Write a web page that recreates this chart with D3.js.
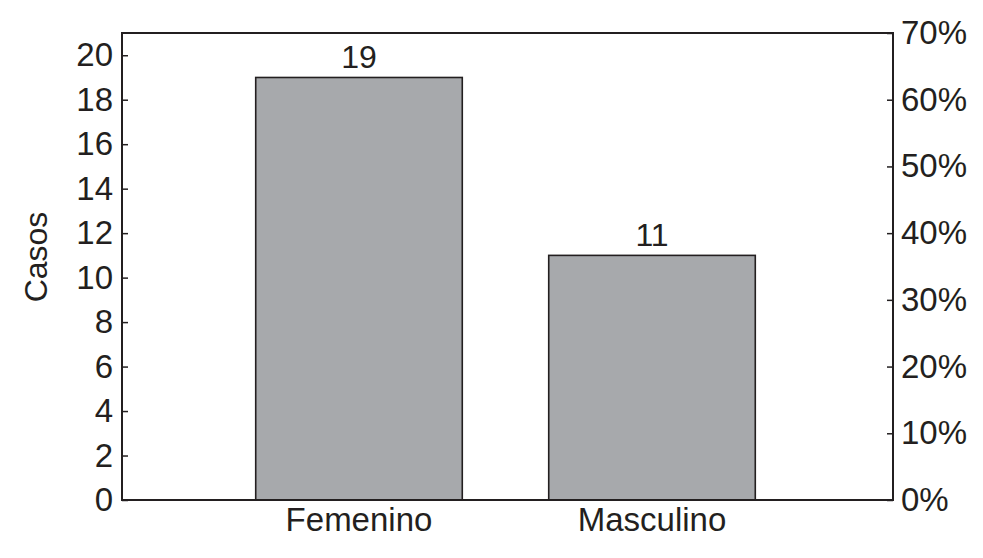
<!DOCTYPE html>
<html>

<head>
	<meta charset="utf-8">
	<script src="https://cdn.jsdelivr.net/npm/d3@7"></script>
	<style type="text/css">
		body {
			margin: 0;
			background: white;
		}

		text {
			font-family: 'Liberation Sans', Arial, sans-serif;
			fill: #231f20;
		}
	</style>
	<title>Casos por sexo</title>
</head>

<body>
	<script>
		// data
		var categories = ["Femenino", "Masculino"];
		var casos = [19, 11];
		var leftTicks = [0, 2, 4, 6, 8, 10, 12, 14, 16, 18, 20];
		var rightTicks = [0, 10, 20, 30, 40, 50, 60, 70];
		var total = 30;

		var margin = { top: 33, right: 90, bottom: 58, left: 122 },
			width = 983 - margin.left - margin.right,
			height = 558 - margin.top - margin.bottom;

		var svg = d3.select("body").append("svg")
			.attr("width", 983)
			.attr("height", 558)
			.append("g")
			.attr("transform", "translate(" + margin.left + "," + margin.top + ")");

		var x = d3.scaleBand()
			.domain(categories)
			.range([-4, width])
			.paddingInner(0.295)
			.paddingOuter(0.47);

		var y = d3.scaleLinear()
			.domain([0, 21])
			.range([height, 0]);

		// right axis in percent of total
		var y_pct = d3.scaleLinear()
			.domain([0, 21 / total * 100])
			.range([height, 0]);

		var data = categories.map((c, i) => ({ cat: c, value: casos[i] }));

		// bars
		svg.selectAll("rect.bar")
			.data(data)
			.enter()
			.append("rect")
			.attr("class", "bar")
			.attr("x", d => x(d.cat))
			.attr("y", d => y(d.value))
			.attr("width", x.bandwidth())
			.attr("height", d => height - y(d.value))
			.attr("fill", "#a7a9ac")
			.attr("stroke", "#231f20")
			.attr("stroke-width", 1.6);

		svg.selectAll("text.val")
			.data(data)
			.enter()
			.append("text")
			.attr("class", "val")
			.attr("x", d => x(d.cat) + x.bandwidth() / 2)
			.attr("y", d => y(d.value) - 9)
			.attr("text-anchor", "middle")
			.style("font-size", "32px")
			.text(d => d.value);

		// frame
		svg.append("rect")
			.attr("width", width)
			.attr("height", height)
			.attr("fill", "none")
			.attr("stroke", "#231f20")
			.attr("stroke-width", 2);

		// left axis, ticks inward
		var y_axis = svg.append("g")
			.call(d3.axisLeft(y).tickValues(leftTicks).tickSize(-6).tickPadding(9));
		y_axis.select(".domain").remove();

		// right axis, ticks inward
		var y_pct_axis = svg.append("g")
			.attr("transform", "translate(" + width + ",0)")
			.call(d3.axisRight(y_pct).tickValues(rightTicks).tickSize(-6).tickPadding(8)
				.tickFormat(d => d + "%"));
		y_pct_axis.select(".domain").remove();

		// x labels
		var x_axis = svg.append("g")
			.attr("transform", "translate(0," + height + ")")
			.call(d3.axisBottom(x).tickSize(0).tickPadding(8));
		x_axis.select(".domain").remove();

		svg.selectAll(".tick line").attr("stroke", "#231f20").attr("stroke-width", 1.5);
		svg.selectAll(".tick text")
			.style("font-size", "33px")
			.style("font-family", "'Liberation Sans', Arial, sans-serif")
			.attr("fill", "#231f20");

		// y label
		svg.append("text")
			.attr("transform", "rotate(-90)")
			.attr("x", -(257 - margin.top))
			.attr("y", 47 - margin.left)
			.attr("text-anchor", "middle")
			.style("font-size", "32px")
			.text("Casos");
	</script>
</body>

</html>
